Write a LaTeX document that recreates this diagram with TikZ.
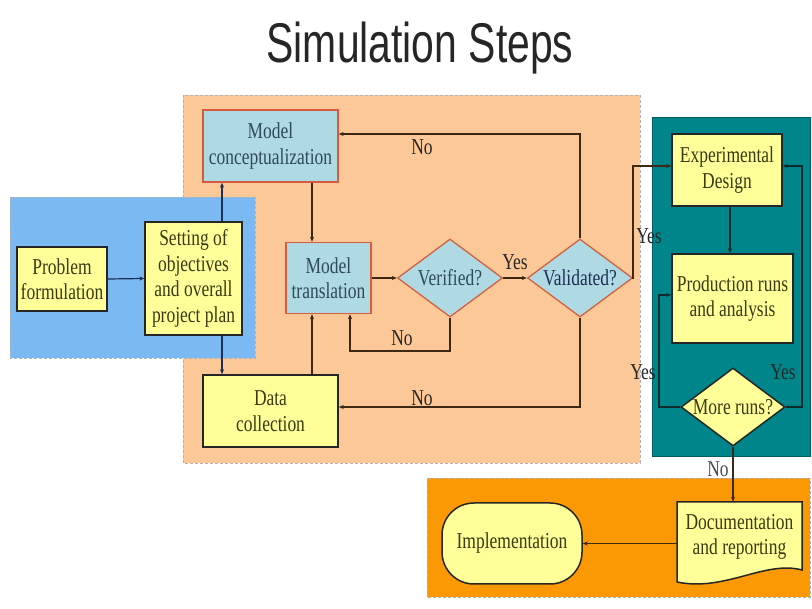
\documentclass[tikz,border=0pt]{standalone}
\usepackage{fontspec}
\setmainfont{Liberation Serif}[FakeStretch=0.77]
\newfontfamily\titlefont{Liberation Sans}[FakeStretch=0.73]
\usetikzlibrary{shapes.geometric,arrows.meta,calc}
\definecolor{orpan}{HTML}{FCC898}
\definecolor{bluepan}{HTML}{7BB9F2}
\definecolor{tealpan}{HTML}{00868A}
\definecolor{botpan}{HTML}{FB9905}
\definecolor{yel}{HTML}{FFFF99}
\definecolor{pblue}{HTML}{B0DAE3}
\definecolor{redb}{HTML}{D65A40}
\definecolor{lnbr}{HTML}{3D2816}
\definecolor{lnbl}{HTML}{1C2F55}
\definecolor{lntl}{HTML}{0D2B2B}
\definecolor{ytxt}{HTML}{3A3A14}
\definecolor{btxt}{HTML}{2E4A58}
\begin{document}
\begin{tikzpicture}[x=1pt,y=-1pt,
  every node/.style={font=\fontsize{22.7}{25.5}\selectfont, align=center, inner sep=0pt},
  ybox/.style={rectangle, draw=black!85, line width=1.5pt, fill=yel, text=ytxt},
  bbox/.style={rectangle, draw=redb, line width=1.3pt, fill=pblue, text=btxt},
  bdia/.style={diamond, draw=redb!80!brown, line width=1.3pt, fill=pblue, minimum width=105, minimum height=78},
  ydia/.style={diamond, draw=black!85, line width=1.5pt, fill=yel, minimum width=104, minimum height=78},
  arr/.style={draw=lnbr, line width=1.2pt, -{Stealth[length=5pt,width=4pt]}},
  arrB/.style={arr, draw=lnbl},
  arrT/.style={arr, draw=lntl},
  lbl/.style={text=black!85}]
\useasboundingbox (0,0) rectangle (812,609);
\fill[white] (0,0) rectangle (812,609);
% title
\node[font=\titlefont\fontsize{56}{60}\selectfont, anchor=base, text=black!85] (title) at (420,63) {Simulation Steps};
% panels
\path[fill=orpan, draw=gray!60, densely dashed, line width=0.6pt] (183,95) rectangle (640,463);
\path[fill=bluepan, draw=gray!60, densely dashed, line width=0.6pt] (10,197) rectangle (255,358);
\path[fill=tealpan, draw=tealpan!70!black, line width=0.8pt] (652,117) rectangle (810,456);
\path[fill=botpan, draw=gray!60, densely dashed, line width=0.6pt] (427,478) rectangle (810,597);
% nodes
\node[ybox, minimum width=90, minimum height=64] (pf) at (62,279) {Problem\\formulation};
\node[ybox, minimum width=97, minimum height=113] (set) at (193.5,278.5) {Setting of\\objectives\\and overall\\project plan};
\node[bbox, minimum width=135, minimum height=72] (mc) at (270.5,146) {Model\\conceptualization};
\node[bbox, minimum width=85, minimum height=71] (mt) at (328.5,278) {Model\\translation};
\node[ybox, minimum width=135, minimum height=72] (dc) at (270.5,411) {Data\\collection};
\node[bdia] (ver) at (450,278) {};
\node[text=btxt] (vert) at (ver.center) {Verified?};
\node[bdia] (val) at (580,278) {};
\node[text=lnbl] (valt) at (val.center) {Validated?};
\node[ybox, minimum width=110, minimum height=72] (ed) at (727,170) {Experimental\\Design};
\node[ybox, minimum width=121, minimum height=89] (pr) at (732.5,298.5) {Production runs\\and analysis};
\node[ydia] (mr) at (733,407) {};
\node[text=ytxt] (mrt) at (mr.center) {More runs?};
\node[ybox, rounded corners=32pt, minimum width=140, minimum height=81] (impl) at (512,543.5) {Implementation};
\path[fill=yel, draw=black!85, line width=1.5pt] (677,502) -- (802,502) -- (802,570) .. controls (765,560) and (725,592) .. (677,582) -- cycle;
\node[minimum width=125, minimum height=70, text=ytxt] (doc) at (739.5,537) {Documentation\\and reporting};
% helper coordinates
\coordinate (c222) at (222,0);
\coordinate (c312) at (312,0);
\coordinate (lp) at (350,351);
\coordinate (tp) at (0,134);
\coordinate (bt) at (0,407);
\coordinate (c633) at (633,166);
\coordinate (c730) at (730,0);
\coordinate (c659) at (659,295);
\coordinate (c802) at (802,166);
% connectors
\draw[arrB] (pf.east) -- (set.west);
\draw[arrB] (set.north -| c222) -- (mc.south -| c222);
\draw[arrB] (set.south -| c222) -- (dc.north -| c222);
\draw[arr] (mc.south -| c312) -- (mt.north -| c312);
\draw[arr] (dc.north -| c312) -- (mt.south -| c312);
\draw[arr] (mt.east) -- (ver.west);
\draw[arr] (ver.east) -- (val.west);
\draw[arr] (ver.south) |- (lp) -- (mt.south -| lp);
\draw[arr] (val.north) |- (mc.east |- tp);
\draw[arr] (val.south) |- (dc.east |- bt);
\draw[arr] (val.east) -| (c633) -- (ed.west |- c633);
\draw[arrT] (ed.south -| c730) -- (pr.north -| c730);
\draw[arrT] (mr.west) -| (c659) -- (pr.west |- c659);
\draw[arrT] (mr.east) -| (c802) -- (ed.east |- c802);
\draw[arr] (mr.south) -- (doc.north -| mr.south);
\draw[arr] (doc.west |- impl.east) -- (impl.east);
% labels
\node[lbl] (l1) at (422,147) {No};
\node[lbl] (l2) at (515,262) {Yes};
\node[lbl] (l3) at (402,338) {No};
\node[lbl] (l4) at (422,398) {No};
\node[lbl] (l5) at (649,236) {Yes};
\node[lbl] (l6) at (643,372) {Yes};
\node[lbl] (l7) at (783,372) {Yes};
\node[lbl, text=black!70] (l8) at (718,469) {No};
\end{tikzpicture}
\end{document}
